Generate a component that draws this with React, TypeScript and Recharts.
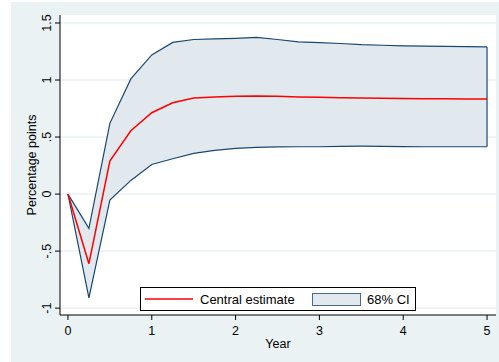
import React from 'react';
import { ComposedChart, Line, Area, XAxis, YAxis, CartesianGrid, ReferenceLine } from 'recharts';

// quarters after the shock, in years
const years = [0, 0.25, 0.5, 0.75, 1, 1.25, 1.5, 1.75, 2, 2.25, 2.5, 2.75, 3, 3.25, 3.5, 3.75, 4, 4.25, 4.5, 4.75, 5];
const central = [0, -0.61, 0.29, 0.555, 0.713, 0.8, 0.843, 0.852, 0.857, 0.86, 0.858, 0.852, 0.848, 0.845, 0.843, 0.84, 0.838, 0.836, 0.835, 0.834, 0.833];
const upper = [0, -0.3, 0.62, 1.01, 1.22, 1.33, 1.355, 1.36, 1.365, 1.374, 1.355, 1.335, 1.328, 1.32, 1.31, 1.305, 1.3, 1.298, 1.295, 1.292, 1.29];
const lower = [0, -0.91, -0.053, 0.12, 0.26, 0.31, 0.357, 0.383, 0.4, 0.41, 0.414, 0.415, 0.415, 0.418, 0.42, 0.418, 0.416, 0.415, 0.415, 0.415, 0.415];

const xTicks = [0, 1, 2, 3, 4, 5];
const yTicks = [-1, -0.5, 0, 0.5, 1, 1.5];
const yTickLabels = ['-1', '-.5', '0', '.5', '1', '1.5'];

const data = years.map((t, i) => ({ t, central: central[i], upper: upper[i], lower: lower[i], band: [lower[i], upper[i]] }));

const NAVY = '#1a476f';
const BAND = '#e1e9ef';
const BG = '#eaf2f3';
const FONT = '"Liberation Sans", Arial, sans-serif';

const YTick = (props: any) => {
  const { x, y, payload } = props;
  const idx = yTicks.indexOf(payload.value);
  return (
    <text x={x} y={y} transform={`rotate(-90, ${x}, ${y})`} textAnchor="middle" fontSize={12.5} fill="#000" fontFamily={FONT}>
      {idx >= 0 ? yTickLabels[idx] : payload.value}
    </text>
  );
};

export default function App() {
  const last = data.length - 1;
  return (
    <div style={{ position: 'absolute', left: 0, top: 0, width: 499, height: 362, background: '#fff', fontFamily: FONT }}>
      <div style={{ position: 'absolute', left: 11, top: 2, right: 0, bottom: 0, background: BG }} />
      <div style={{ position: 'absolute', left: 0, top: 0 }}>
        <ComposedChart width={499} height={362} data={data} margin={{ top: 15, right: 3, bottom: 0, left: 0 }}>
          <CartesianGrid vertical={false} horizontalValues={yTicks} stroke={BG} strokeWidth={1.5} fill="#fff" fillOpacity={1} />
          <XAxis
            type="number"
            dataKey="t"
            domain={[-0.095, 5.107]}
            ticks={xTicks}
            height={47}
            stroke="#000"
            tickSize={5}
            tickMargin={6}
            tick={{ fill: '#000', fontSize: 12.5, fontFamily: FONT }}
            label={{ value: 'Year', position: 'insideBottom', offset: 14, fill: '#000', fontSize: 12.5, fontFamily: FONT }}
          />
          <YAxis
            type="number"
            domain={[-1.06, 1.57]}
            ticks={yTicks}
            width={60}
            stroke="#000"
            tickSize={5}
            tickMargin={4}
            tick={<YTick />}
            label={{
              content: () => (
                <text x={36} y={165} transform="rotate(-90, 36, 165)" textAnchor="middle" fontSize={12.5} fill="#000" fontFamily={FONT}>
                  Percentage points
                </text>
              ),
            }}
          />
          <Area dataKey="band" stroke="none" fill={BAND} fillOpacity={1} isAnimationActive={false} />
          <Line dataKey="upper" stroke={NAVY} strokeWidth={1.2} dot={false} isAnimationActive={false} />
          <Line dataKey="lower" stroke={NAVY} strokeWidth={1.2} dot={false} isAnimationActive={false} />
          <ReferenceLine
            segment={[{ x: years[last], y: lower[last] }, { x: years[last], y: upper[last] }]}
            stroke={NAVY}
            strokeWidth={1.2}
          />
          <Line dataKey="central" stroke="#ff0000" strokeWidth={1.5} dot={false} isAnimationActive={false} />
        </ComposedChart>
      </div>
      <div style={{ position: 'absolute', left: 140, top: 287, width: 276, height: 24, background: '#fff', border: '1px solid #000', boxSizing: 'border-box' }}>
        <svg width={274} height={22} style={{ display: 'block' }}>
          <line x1={4} x2={52} y1={11} y2={11} stroke="#ff0000" strokeWidth={1.5} />
          <text x={59} y={16} fontSize={13} fill="#000" fontFamily={FONT}>Central estimate</text>
          <rect x={171.5} y={5.5} width={48} height={12} fill={BAND} stroke="#4a6a8c" strokeWidth={1} />
          <text x={226} y={16} fontSize={13} fill="#000" fontFamily={FONT}>68% CI</text>
        </svg>
      </div>
    </div>
  );
}
